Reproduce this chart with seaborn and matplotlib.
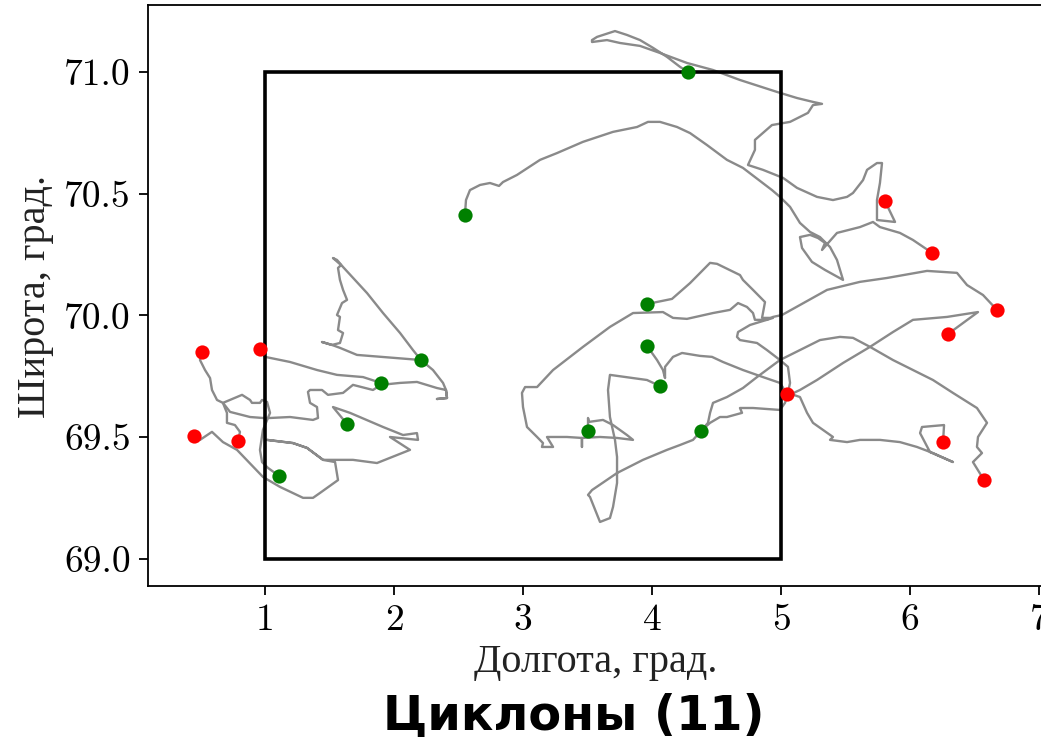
import matplotlib
matplotlib.use("Agg")
import matplotlib.pyplot as plt
from matplotlib.patches import Rectangle
import pandas as pd
import seaborn as sns

# Cyclone tracks: (longitude, latitude) pairs, first point = genesis, last point = end
track_01 = [(2.550, 70.413), (2.558, 70.474), (2.589, 70.515), (2.667, 70.536), (2.744, 70.544),
            (2.814, 70.532), (2.845, 70.548), (2.953, 70.577), (3.132, 70.639), (3.264, 70.667),
            (3.465, 70.713), (3.698, 70.754), (3.884, 70.774), (3.969, 70.795), (4.062, 70.795),
            (4.194, 70.774), (4.295, 70.749), (4.426, 70.700), (4.581, 70.639), (4.705, 70.606),
            (4.930, 70.515), (4.992, 70.487), (5.070, 70.446), (5.147, 70.380), (5.225, 70.343),
            (5.302, 70.322), (5.380, 70.281), (5.434, 70.228), (5.481, 70.146), (5.341, 70.187),
            (5.240, 70.220), (5.163, 70.277), (5.147, 70.322), (5.225, 70.331), (5.287, 70.318),
            (5.341, 70.298), (5.318, 70.269), (5.434, 70.339), (5.612, 70.363), (5.713, 70.384),
            (5.767, 70.363), (5.922, 70.339), (6.023, 70.310), (6.171, 70.257)]

track_02 = [(4.279, 71.000), (4.217, 71.021), (4.116, 71.062), (4.008, 71.099), (3.907, 71.131),
            (3.806, 71.152), (3.713, 71.168), (3.574, 71.144), (3.535, 71.131), (3.535, 71.123),
            (3.651, 71.131), (3.752, 71.119), (3.907, 71.107), (4.062, 71.078), (4.271, 71.037),
            (4.473, 71.008), (4.682, 70.967), (4.969, 70.918), (5.124, 70.893), (5.248, 70.877),
            (5.318, 70.869), (5.248, 70.864), (5.209, 70.832), (5.070, 70.795), (4.930, 70.782),
            (4.798, 70.721), (4.798, 70.680), (4.744, 70.618), (4.860, 70.598), (5.016, 70.565),
            (5.124, 70.524), (5.279, 70.487), (5.403, 70.474), (5.512, 70.487), (5.558, 70.503),
            (5.636, 70.556), (5.667, 70.598), (5.744, 70.626), (5.783, 70.626), (5.767, 70.544),
            (5.744, 70.474), (5.744, 70.392), (5.884, 70.384), (5.806, 70.470)]

track_03 = [(3.961, 70.047), (4.155, 70.068), (4.295, 70.133), (4.450, 70.216), (4.504, 70.212),
            (4.682, 70.166), (4.705, 70.146), (4.783, 70.105), (4.876, 70.055), (4.853, 69.990),
            (4.938, 69.990), (4.760, 69.961), (4.667, 69.932), (4.659, 69.912), (4.682, 69.899),
            (4.814, 69.887), (4.891, 69.858), (4.992, 69.817), (5.054, 69.789), (5.070, 69.723),
            (5.054, 69.682), (5.147, 69.665), (5.202, 69.600), (5.248, 69.559), (5.403, 69.501),
            (5.380, 69.489), (5.512, 69.480), (5.612, 69.489), (5.767, 69.489), (5.922, 69.480),
            (6.054, 69.460), (6.178, 69.435), (6.333, 69.398), (6.155, 69.439), (6.078, 69.517),
            (6.093, 69.542), (6.178, 69.546), (6.264, 69.550), (6.256, 69.480)]

track_04 = [(3.961, 69.875), (4.039, 69.817), (4.085, 69.776), (4.101, 69.743), (4.101, 69.789),
            (4.163, 69.830), (4.233, 69.846), (4.372, 69.834), (4.465, 69.830), (4.550, 69.809),
            (4.705, 69.776), (4.860, 69.747), (4.992, 69.723), (5.047, 69.678)]

track_05 = [(4.062, 69.710), (3.961, 69.735), (3.674, 69.756), (3.659, 69.694), (3.674, 69.583),
            (3.713, 69.489), (3.729, 69.419), (3.729, 69.312), (3.698, 69.214), (3.674, 69.168),
            (3.597, 69.152), (3.581, 69.173), (3.519, 69.255), (3.504, 69.263), (3.535, 69.283),
            (3.729, 69.353), (3.930, 69.407), (4.116, 69.448), (4.217, 69.468), (4.318, 69.489),
            (4.380, 69.526), (4.434, 69.559), (4.450, 69.600), (4.473, 69.641), (4.581, 69.665),
            (4.705, 69.702), (4.814, 69.747), (4.992, 69.817), (5.147, 69.858), (5.302, 69.899),
            (5.457, 69.912), (5.558, 69.908), (5.690, 69.871), (5.868, 69.817), (6.023, 69.776),
            (6.178, 69.735), (6.333, 69.682), (6.519, 69.620), (6.597, 69.559), (6.527, 69.501),
            (6.519, 69.460), (6.558, 69.435), (6.488, 69.398), (6.574, 69.324)]

track_06 = [(3.504, 69.526), (3.504, 69.579), (3.512, 69.563), (3.620, 69.571), (3.698, 69.550),
            (3.806, 69.509), (3.853, 69.489), (3.729, 69.497), (3.597, 69.501), (3.457, 69.497),
            (3.457, 69.460), (3.457, 69.497), (3.341, 69.501), (3.186, 69.501), (3.233, 69.460),
            (3.147, 69.460), (3.155, 69.476), (3.109, 69.501), (3.031, 69.542), (3.000, 69.624),
            (2.992, 69.682), (3.016, 69.706), (3.109, 69.706), (3.233, 69.776), (3.465, 69.871),
            (3.674, 69.953), (3.853, 70.010), (4.085, 70.014), (4.163, 69.990), (4.271, 69.986),
            (4.473, 70.010), (4.605, 70.023), (4.667, 70.051), (4.736, 70.035), (4.783, 70.010),
            (4.798, 69.982), (4.891, 69.982), (4.938, 69.994), (5.008, 70.002), (5.147, 70.043),
            (5.357, 70.105), (5.612, 70.138), (5.822, 70.154), (6.132, 70.183), (6.364, 70.175),
            (6.442, 70.125), (6.566, 70.084), (6.674, 70.023)]

track_07 = [(4.380, 69.526), (4.450, 69.559), (4.527, 69.583), (4.581, 69.583), (4.698, 69.600),
            (4.682, 69.620), (4.783, 69.620), (4.992, 69.612), (5.031, 69.641), (5.047, 69.669),
            (5.147, 69.694), (5.279, 69.735), (5.481, 69.805), (5.690, 69.871), (5.868, 69.932),
            (6.023, 69.982), (6.287, 69.994), (6.527, 70.014), (6.295, 69.924)]

track_08 = [(1.899, 69.723), (1.760, 69.747), (1.558, 69.756), (1.403, 69.776), (1.194, 69.809),
            (1.000, 69.830), (0.961, 69.862)]

track_09 = [(2.209, 69.817), (1.713, 69.838), (1.581, 69.867), (1.519, 69.879), (1.442, 69.891),
            (1.519, 69.879), (1.581, 69.887), (1.605, 69.928), (1.566, 69.940), (1.581, 69.994),
            (1.558, 70.002), (1.597, 70.051), (1.636, 70.064), (1.605, 70.105), (1.581, 70.146),
            (1.566, 70.195), (1.589, 70.207), (1.527, 70.236), (1.558, 70.228), (1.605, 70.199),
            (1.791, 70.092), (1.915, 70.010), (2.047, 69.928), (2.147, 69.858), (2.209, 69.817),
            (2.302, 69.776), (2.380, 69.723), (2.403, 69.694), (2.411, 69.661), (2.333, 69.657),
            (2.411, 69.661), (2.403, 69.694), (2.333, 69.702), (2.178, 69.727), (2.047, 69.723),
            (1.899, 69.715), (1.837, 69.694), (1.682, 69.715), (1.605, 69.682), (1.488, 69.674),
            (1.442, 69.694), (1.349, 69.694), (1.333, 69.686), (1.349, 69.641), (1.403, 69.624),
            (1.411, 69.579), (1.372, 69.571), (1.194, 69.583), (1.039, 69.579), (0.984, 69.579),
            (0.884, 69.583), (0.729, 69.604), (0.674, 69.641), (0.628, 69.653), (0.589, 69.694),
            (0.574, 69.743), (0.535, 69.776), (0.496, 69.817), (0.512, 69.850)]

track_10 = [(1.636, 69.554), (1.527, 69.624), (1.659, 69.600), (1.915, 69.542), (2.070, 69.509),
            (2.178, 69.517), (2.186, 69.489), (1.969, 69.501), (2.124, 69.448), (1.868, 69.394),
            (1.682, 69.407), (1.450, 69.407), (1.326, 69.456), (1.217, 69.476), (1.016, 69.489),
            (1.217, 69.476), (1.326, 69.456), (1.450, 69.407), (1.543, 69.398), (1.566, 69.324),
            (1.426, 69.271), (1.372, 69.251), (1.295, 69.251), (1.116, 69.296), (0.984, 69.337),
            (0.783, 69.448), (0.674, 69.480), (0.589, 69.522), (0.496, 69.489), (0.450, 69.505)]

track_11 = [(1.109, 69.341), (1.023, 69.374), (0.977, 69.398), (0.961, 69.448), (0.984, 69.530),
            (1.023, 69.579), (1.039, 69.600), (1.016, 69.645), (0.977, 69.653), (0.961, 69.641),
            (0.899, 69.641), (0.884, 69.653), (0.822, 69.674), (0.674, 69.641), (0.705, 69.600),
            (0.705, 69.559), (0.767, 69.550), (0.806, 69.522), (0.791, 69.485)]

tracks = [track_01, track_02, track_03, track_04, track_05, track_06,
          track_07, track_08, track_09, track_10, track_11]

# Study region
box_lon = [1.0, 5.0]
box_lat = [69.0, 71.0]

x_ticks = [1, 2, 3, 4, 5, 6, 7]
y_ticks = [69.0, 69.5, 70.0, 70.5, 71.0]

x_label = "Долгота, град."
y_label = "Широта, град."
title_text = f"Циклоны ({len(tracks)})"

rows = [(k, lon, lat) for k, tr in enumerate(tracks) for lon, lat in tr]
df = pd.DataFrame(rows, columns=["track", "lon", "lat"])
starts = df.groupby("track").head(1)
ends = df.groupby("track").tail(1)

sns.set_style("ticks")
W, H = 1041, 742
fig = plt.figure(figsize=(W / 100, H / 100), dpi=100)
ax = fig.add_axes([148 / W, (H - 586) / H, (1043 - 148) / W, (586 - 5) / H])

sns.lineplot(data=df, x="lon", y="lat", units="track", estimator=None, sort=False,
             color="#8a8a8a", lw=1.7, ax=ax, legend=False, zorder=2)
ax.add_patch(Rectangle((box_lon[0], box_lat[0]), box_lon[1] - box_lon[0],
                       box_lat[1] - box_lat[0], fill=False, ec="black", lw=2.6, zorder=2.5))
sns.scatterplot(data=starts, x="lon", y="lat", color="green", s=105, linewidth=0,
                zorder=3, ax=ax, legend=False)
sns.scatterplot(data=ends, x="lon", y="lat", color="red", s=105, linewidth=0,
                zorder=3, ax=ax, legend=False)

ax.set_xlim(0.093, 7.031)
ax.set_ylim(68.889, 71.275)

tick_font = dict(fontfamily="cmr10", fontsize=27)
ax.set_xticks(x_ticks, labels=[str(v) for v in x_ticks], **tick_font)
ax.set_yticks(y_ticks, labels=[f"{v:.1f}" for v in y_ticks], **tick_font)
ax.tick_params(direction="out", length=6.5, width=1.3, pad=6, colors="black")
for side in ["left", "right", "top", "bottom"]:
    ax.spines[side].set_visible(True)
    ax.spines[side].set_linewidth(1.3)
    ax.spines[side].set_color("black")

label_font = dict(fontfamily="Liberation Serif", fontsize=29, color="#222222")
ax.set_xlabel(x_label, va="baseline", ha="center", **label_font)
ax.xaxis.set_label_coords(0.5, (586 - 672) / 581)
ax.set_ylabel(y_label, va="center", ha="center", **label_font)
ax.yaxis.set_label_coords((36 - 148) / 895, (586 - 297) / 581)

fig.text(574 / W, (H - 730) / H, title_text, ha="center", va="baseline",
         fontsize=34.5, fontweight="bold", fontfamily="DejaVu Sans", color="black")

fig.savefig("out.png", dpi=100)
